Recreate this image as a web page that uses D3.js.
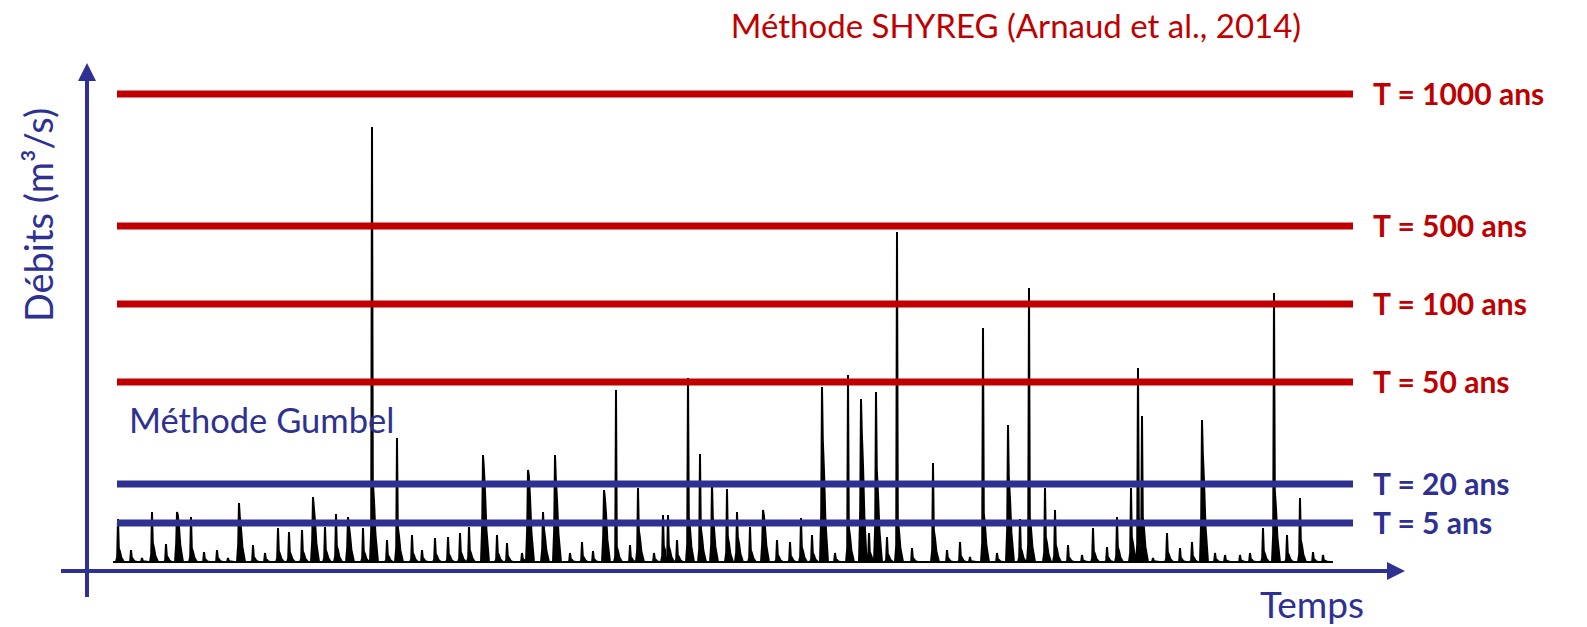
<!DOCTYPE html>
<html>
<head>
<meta charset="utf-8">
<script src="https://cdn.jsdelivr.net/npm/d3@7"></script>
<style>
  body { margin: 0; background: #fff; }
  svg { display: block; font-family: Lato, "Open Sans", sans-serif; }
</style>
</head>
<body>
<div id="chart"></div>
<script>
// return-period levels (m3/s)
var periods = ["T = 1000 ans", "T = 500 ans", "T = 100 ans", "T = 50 ans", "T = 20 ans", "T = 5 ans"];
var periodFlows = [938, 674, 518, 362, 158, 80];
var periodMethod = ["SHYREG", "SHYREG", "SHYREG", "SHYREG", "Gumbel", "Gumbel"];

// flood events : time (years), peak flow, recession flow just after the peak
var peakYears = [0.25, 0.9, 1.45, 1.95, 2.65, 3.2, 3.9, 4.55, 5.2, 5.75, 6.3, 7.0, 7.6, 8.25, 8.8, 9.45,
  10.0, 10.6, 11.15, 11.75, 12.5, 12.95, 13.7, 14.2, 14.95, 15.45, 16.1, 16.75, 17.35, 17.8, 18.5,
  19.2, 19.7, 20.45, 20.75, 21.5, 22.1, 22.85, 23.45, 24.0, 24.55, 25.15, 25.85, 26.25, 27.05, 27.5,
  27.75, 28.2, 28.75, 29.35, 29.95, 30.7, 31.2, 31.85, 32.5, 33.2, 33.85, 34.4, 34.95, 35.45, 36.1,
  36.75, 37.4, 37.8, 38.15, 38.7, 39.2, 39.95, 41.0, 41.7, 42.35, 42.85, 43.5, 44.2, 44.75, 45.35,
  45.8, 46.6, 47.1, 47.75, 48.45, 49.0, 49.7, 50.2, 50.9, 51.25, 51.45, 52.0, 52.7, 53.35, 53.95,
  54.45, 55.1, 55.6, 56.35, 56.85, 57.5, 58.05, 58.7, 59.35, 60.0, 60.5];
var peakFlows = [88, 26, 10, 102, 38, 102, 92, 22, 26, 10, 120, 36, 20, 70, 62, 66,
  132, 72, 98, 92, 70, 872, 46, 250, 56, 26, 50, 52, 60, 72, 216,
  56, 40, 20, 186, 102, 216, 20, 42, 24, 146, 346, 36, 150, 20, 96,
  96, 46, 370, 218, 162, 148, 102, 72, 106, 46, 42, 90, 56, 352, 20,
  376, 328, 60, 342, 52, 662, 30, 200, 26, 42, 12, 470, 20, 276, 88,
  550, 150, 106, 36, 16, 70, 32, 92, 150, 390, 294, 10, 60, 30, 42,
  286, 20, 16, 16, 20, 70, 540, 56, 130, 22, 16];
var recessFlows = [30, 10, 4, 40, 14, 96, 30, 8, 10, 4, 92, 12, 8, 24, 22, 24,
  112, 26, 34, 76, 24, 166, 16, 72, 20, 10, 18, 18, 22, 26, 192,
  20, 14, 8, 176, 70, 170, 8, 14, 8, 132, 32, 12, 66, 8, 34,
  34, 16, 92, 70, 92, 52, 52, 26, 96, 16, 14, 32, 20, 246, 8,
  72, 262, 22, 186, 18, 86, 10, 66, 10, 14, 4, 100, 8, 172, 30,
  92, 52, 36, 12, 6, 24, 12, 32, 52, 92, 92, 4, 22, 10, 14,
  220, 8, 6, 6, 8, 24, 146, 20, 46, 8, 6];

var W = 1587, H = 627;
var red = "#C00000", blue = "#2E3192";

var svg = d3.select("#chart").append("svg")
  .attr("width", W)
  .attr("height", H);

var x = d3.scaleLinear().domain([0, 61]).range([113, 1333]);
var y = d3.scaleLinear().domain([0, 1000]).range([563, 63]);

// arrow head
var defs = svg.append("defs");
defs.append("marker")
  .attr("id", "arrow")
  .attr("viewBox", "0 0 10 10")
  .attr("refX", 0)
  .attr("refY", 5)
  .attr("markerWidth", 18)
  .attr("markerHeight", 18)
  .attr("markerUnits", "userSpaceOnUse")
  .attr("orient", "auto")
  .append("path")
  .attr("d", "M0,0L10,5L0,10z")
  .attr("fill", blue);

// build the hydrograph points from the events
var pts = [[0, 2]];
peakYears.forEach(function (t, i) {
  var next = i < peakYears.length - 1 ? peakYears[i + 1] : 61;
  var end = Math.min(t + 0.3, next - 0.12);
  var r = recessFlows[i];
  pts.push([t - 0.1, 2]);
  pts.push([t - 0.04, Math.max(3, r * 0.4)]);
  pts.push([t, peakFlows[i]]);
  pts.push([t + 0.04, r]);
  pts.push([t + 0.1, r * 0.75]);
  pts.push([Math.min(t + 0.17, end - 0.03), Math.max(3, r * 0.35)]);
  pts.push([end, 2]);
});
pts.push([61, 2]);

var line = d3.line()
  .x(function (d) { return x(d[0]); })
  .y(function (d) { return y(d[1]); });

var area = d3.area()
  .x(function (d) { return x(d[0]); })
  .y0(y(0))
  .y1(function (d) { return y(d[1]); });

svg.append("path")
  .datum(pts)
  .attr("d", area)
  .attr("fill", "#000");

svg.append("path")
  .datum(pts)
  .attr("d", line)
  .attr("fill", "none")
  .attr("stroke", "#000")
  .attr("stroke-width", 2)
  .attr("stroke-linejoin", "miter");

// return period lines
svg.append("g")
  .selectAll("line")
  .data(periods)
  .enter()
  .append("line")
  .attr("x1", x(0.2))
  .attr("x2", x(62))
  .attr("y1", function (d, i) { return y(periodFlows[i]); })
  .attr("y2", function (d, i) { return y(periodFlows[i]); })
  .attr("stroke", function (d, i) { return periodMethod[i] == "SHYREG" ? red : blue; })
  .attr("stroke-width", 7);

svg.append("g")
  .selectAll("text")
  .data(periods)
  .enter()
  .append("text")
  .attr("x", x(63))
  .attr("y", function (d, i) { return y(periodFlows[i]); })
  .attr("dy", "0.36em")
  .attr("font-size", 30)
  .attr("font-weight", "bold")
  .attr("fill", function (d, i) { return periodMethod[i] == "SHYREG" ? red : blue; })
  .text(function (d) { return d; });

// axes
svg.append("line")
  .attr("x1", 61).attr("x2", 1387)
  .attr("y1", 571).attr("y2", 571)
  .attr("stroke", blue)
  .attr("stroke-width", 4)
  .attr("marker-end", "url(#arrow)");

svg.append("line")
  .attr("x1", 87).attr("x2", 87)
  .attr("y1", 597).attr("y2", 81)
  .attr("stroke", blue)
  .attr("stroke-width", 4)
  .attr("marker-end", "url(#arrow)");

// texts
svg.append("text")
  .attr("x", 1016)
  .attr("y", 38)
  .attr("text-anchor", "middle")
  .attr("font-size", 33)
  .attr("fill", red)
  .text("Méthode SHYREG (Arnaud et al., 2014)");

svg.append("text")
  .attr("x", 129)
  .attr("y", 433)
  .attr("font-size", 34.5)
  .attr("fill", blue)
  .text("Méthode Gumbel");

svg.append("text")
  .attr("transform", "translate(53,215) rotate(-90)")
  .attr("text-anchor", "middle")
  .attr("font-size", 38)
  .attr("fill", blue)
  .text("Débits (m³/s)");

svg.append("text")
  .attr("x", 1260)
  .attr("y", 618)
  .attr("font-size", 37)
  .attr("fill", blue)
  .text("Temps");
</script>
</body>
</html>
